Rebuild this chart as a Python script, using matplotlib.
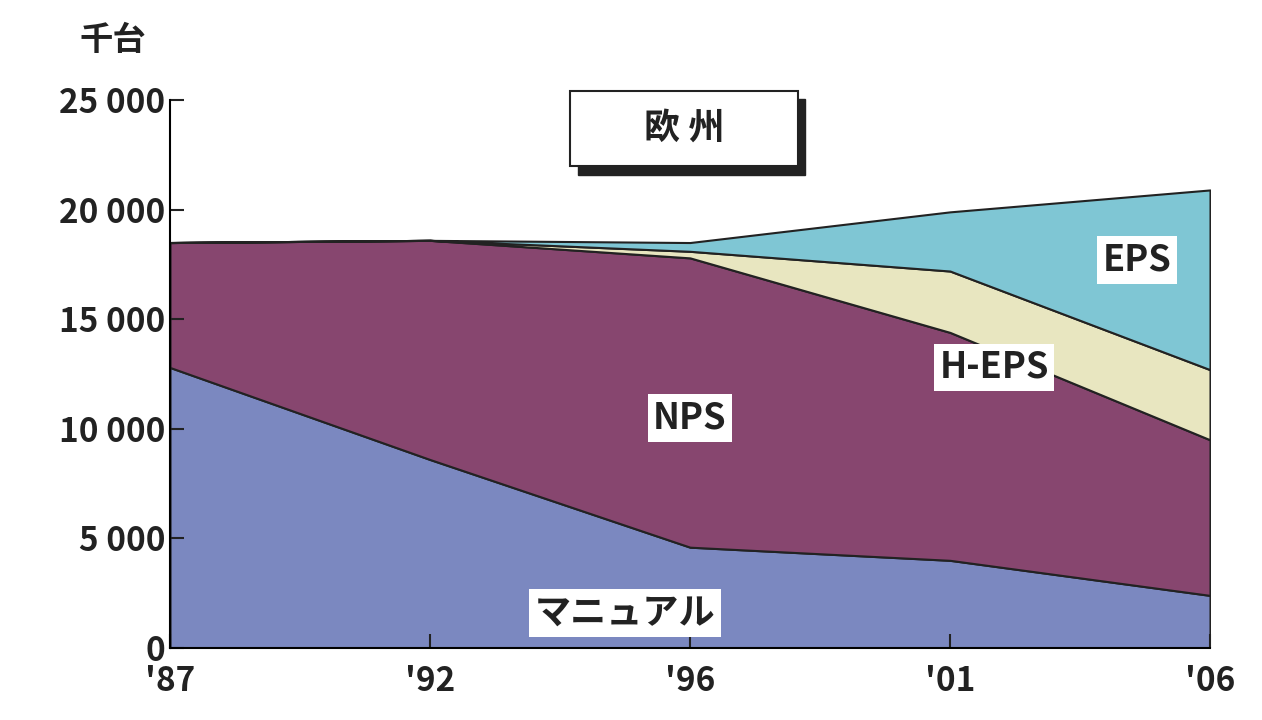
import matplotlib
matplotlib.use("Agg")
import matplotlib.pyplot as plt
from matplotlib.patches import FancyBboxPatch

plt.rcParams['font.family'] = ['Noto Sans CJK JP', 'DejaVu Sans']

years = ["'87", "'92", "'96", "'01", "'06"]
manual = [12800, 8600, 4600, 4000, 2400]
nps = [5700, 10000, 13200, 10400, 7100]
heps = [0, 0, 300, 2800, 3200]
eps = [0, 0, 400, 2700, 8200]

fig = plt.figure(figsize=(12.62, 7.2), dpi=100)
ax = fig.add_axes([0.1347, 0.1, 0.8241, 0.761])
x = list(range(len(years)))
colors = ['#7b88c0', '#87466f', '#e8e6c0', '#7fc6d4']
ax.stackplot(x, manual, nps, heps, eps, colors=colors, edgecolor='#222222', linewidth=1.5)
ax.set_xlim(0, 4)
ax.set_ylim(0, 25000)
ax.set_xticks(x)
ax.set_xticklabels(years)
yt = [0, 5000, 10000, 15000, 20000, 25000]
ax.set_yticks(yt)
ax.set_yticklabels(['0' if v == 0 else f"{v//1000} 000" for v in yt])
for s in ['top', 'right']:
    ax.spines[s].set_visible(False)
ax.spines['left'].set_linewidth(1.5)
ax.spines['bottom'].set_linewidth(1.5)
ax.tick_params(axis='both', direction='in', length=10, width=1.5, labelsize=24, colors='#222222')
for t in ax.get_xticklabels() + ax.get_yticklabels():
    t.set_fontweight('bold')
ax.tick_params(axis='x', pad=12)
fig.text(0.063, 0.944, '千台', fontsize=24, fontweight='bold', ha='left', va='center', color='#222222')

box = dict(facecolor='white', edgecolor='none', pad=4)
ax.text(1.75, 1600, 'マニュアル', fontsize=26, fontweight='bold', ha='center', va='center', bbox=box, color='#222222')
ax.text(2.0, 10500, 'NPS', fontsize=26, fontweight='bold', ha='center', va='center', bbox=box, color='#222222')
ax.text(3.17, 12800, 'H-EPS', fontsize=26, fontweight='bold', ha='center', va='center', bbox=box, color='#222222')
ax.text(3.72, 17700, 'EPS', fontsize=26, fontweight='bold', ha='center', va='center', bbox=box, color='#222222')

# title box with shadow
fig.patches.append(FancyBboxPatch((0.458, 0.757), 0.18, 0.105, boxstyle='square,pad=0', transform=fig.transFigure,
                                  facecolor='#222222', edgecolor='#222222'))
fig.patches.append(FancyBboxPatch((0.452, 0.769), 0.18, 0.105, boxstyle='square,pad=0', transform=fig.transFigure,
                                  facecolor='white', edgecolor='#222222', linewidth=1.5))
fig.text(0.542, 0.822, '欧 州', fontsize=26, fontweight='bold', ha='center', va='center', color='#222222')

fig.savefig('out.png', dpi=100)
